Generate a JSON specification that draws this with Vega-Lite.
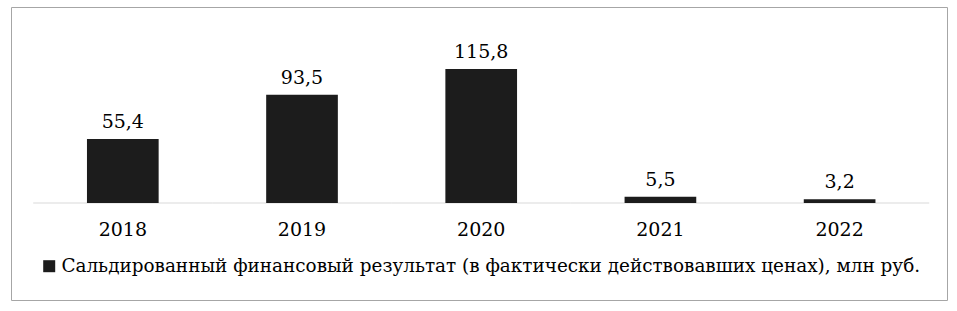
{
  "$schema": "https://vega.github.io/schema/vega-lite/v6.json",
  "width": 936,
  "height": 293,
  "autosize": {"type": "none"},
  "padding": {"left": 11, "top": 7, "right": 10, "bottom": 11},
  "background": "white",
  "config": {
    "view": {"stroke": "#a6a6a6", "strokeWidth": 1},
    "font": "DejaVu Serif",
    "locale": {"number": {"decimal": ",", "thousands": " ", "grouping": [3], "currency": ["", " ₽"]}}
  },
  "data": {
    "values": [
      {"year": "2018", "value": 55.4, "series": "Сальдированный финансовый результат (в фактически действовавших ценах), млн руб."},
      {"year": "2019", "value": 93.5, "series": "Сальдированный финансовый результат (в фактически действовавших ценах), млн руб."},
      {"year": "2020", "value": 115.8, "series": "Сальдированный финансовый результат (в фактически действовавших ценах), млн руб."},
      {"year": "2021", "value": 5.5, "series": "Сальдированный финансовый результат (в фактически действовавших ценах), млн руб."},
      {"year": "2022", "value": 3.2, "series": "Сальдированный финансовый результат (в фактически действовавших ценах), млн руб."}
    ]
  },
  "encoding": {
    "x": {
      "field": "year",
      "type": "nominal",
      "sort": null,
      "scale": {"paddingInner": 0.6, "paddingOuter": 0.4116, "align": 0.515},
      "axis": null
    }
  },
  "layer": [
    {
      "mark": {"type": "tick", "size": 179.2, "thickness": 1, "color": "#d9d9d9", "opacity": 1},
      "encoding": {
        "y": {"datum": 0, "type": "quantitative", "scale": {"domain": [-83.8, 169.4], "nice": false, "zero": false}, "axis": null}
      }
    },
    {
      "mark": {"type": "bar"},
      "encoding": {
        "y": {"field": "value", "type": "quantitative", "scale": {"domain": [-83.8, 169.4], "nice": false, "zero": false}, "axis": null},
        "color": {
          "field": "series",
          "type": "nominal",
          "scale": {"range": ["#1c1c1c"]},
          "legend": {
            "orient": "none",
            "legendX": 29,
            "legendY": 250,
            "title": null,
            "symbolType": "square",
            "symbolSize": 144,
            "symbolStrokeWidth": 0,
            "labelFontSize": 18.4,
            "labelFont": "DejaVu Serif",
            "labelColor": "black",
            "labelLimit": 0,
            "labelOffset": 3,
            "padding": 0
          }
        }
      }
    },
    {
      "mark": {"type": "text", "baseline": "alphabetic", "dy": -11, "fontSize": 19, "color": "black"},
      "encoding": {
        "y": {"field": "value", "type": "quantitative"},
        "text": {"field": "value", "type": "quantitative", "format": ".1f"}
      }
    },
    {
      "mark": {"type": "text", "baseline": "middle", "fontSize": 19, "color": "black"},
      "encoding": {
        "y": {"datum": -23.3, "type": "quantitative"},
        "text": {"field": "year", "type": "nominal"}
      }
    }
  ]
}
